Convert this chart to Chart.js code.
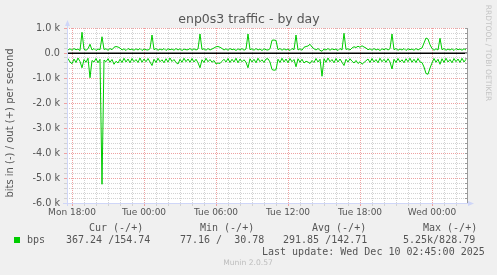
<!DOCTYPE html>
<html>
<head>
<meta charset="utf-8">
<script src="https://cdn.jsdelivr.net/npm/chart.js@4.4.1/dist/chart.umd.min.js"></script>
<style>
  html, body { margin: 0; padding: 0; background: #f0f0f0; }
  canvas { display: block; }
</style>
</head>
<body>
<canvas id="chart" width="497" height="275"></canvas>
<script>
// bits out (+), one sample every 10 minutes, starting Mon 17:40
const outBps = [
  120, 170, 110, 180, 130, 160, 100, 830, 150, 110, 170, 350, 120, 180, 100, 160, 130, 650, 140, 170,
  110, 180, 130, 230, 260, 240, 200, 120, 170, 100, 180, 130, 160, 110, 170, 120, 180, 100, 160, 130,
  120, 170, 720, 130, 180, 110, 160, 120, 180, 100, 170, 130, 160, 110, 180, 120, 170, 100, 160, 130,
  130, 180, 110, 170, 120, 160, 760, 140, 170, 110, 180, 120, 160, 200, 250, 260, 230, 180, 120, 170,
  110, 180, 130, 160, 100, 170, 120, 180, 110, 160, 760, 130, 170, 110, 180, 120, 160, 100, 170, 130,
  120, 170, 510, 520, 500, 130, 180, 110, 170, 120, 160, 100, 180, 130, 720, 120, 170, 110, 230, 260,
  280, 350, 240, 170, 120, 180, 110, 70, 160, 120, 180, 110, 170, 130, 160, 100, 180, 120, 790, 140,
  170, 120, 200, 250, 220, 270, 230, 290, 240, 200, 130, 170, 110, 180, 120, 160, 100, 170, 130, 180,
  120, 170, 760, 130, 180, 110, 160, 120, 180, 100, 170, 130, 160, 110, 180, 120, 170, 200, 400, 600,
  560, 330, 180, 110, 170, 120, 590, 130, 180, 110, 160, 120, 170, 100, 180, 130, 160, 110, 170, 120
];

// bits in (-), same samples
const inBps = [
  220, 360, 430, 240, 380, 200, 340, 590, 260, 370, 210, 990, 300, 360, 220, 390, 250, 5250, 280, 350,
  230, 370, 260, 450, 330, 400, 250, 380, 210, 360, 240, 390, 220, 350, 260, 380, 200, 370, 240, 350,
  220, 360, 500, 250, 380, 210, 350, 270, 390, 230, 360, 200, 340, 260, 380, 440, 250, 370, 210, 350,
  240, 370, 220, 360, 250, 390, 590, 270, 380, 210, 350, 260, 370, 300, 440, 400, 420, 330, 250, 360,
  220, 380, 250, 360, 210, 390, 240, 350, 270, 370, 590, 230, 360, 250, 390, 210, 350, 270, 380, 240,
  230, 360, 660, 690, 670, 250, 380, 210, 360, 240, 390, 220, 350, 260, 550, 230, 370, 250, 400, 330,
  360, 420, 300, 380, 220, 360, 250, 930, 230, 370, 200, 350, 260, 390, 220, 360, 240, 370, 500, 250,
  360, 230, 330, 400, 300, 420, 350, 450, 380, 310, 240, 380, 220, 360, 260, 390, 210, 350, 250, 370,
  230, 360, 640, 250, 380, 220, 360, 270, 390, 230, 350, 210, 370, 250, 380, 220, 360, 380, 560, 820,
  850, 600, 400, 220, 370, 250, 450, 230, 380, 210, 360, 260, 390, 220, 350, 240, 380, 210, 360, 250
];

const sampleStart = -20;   // minutes relative to Mon 18:00
const sampleStep = 10;

const tickLabels = ['Mon 18:00', 'Tue 00:00', 'Tue 06:00', 'Tue 12:00', 'Tue 18:00', 'Wed 00:00'];
const yTickValues = [-6000, -5000, -4000, -3000, -2000, -1000, 0, 1000];
const yTickLabels = ['-6.0 k', '-5.0 k', '-4.0 k', '-3.0 k', '-2.0 k', '-1.0 k', '0.0', '1.0 k'];

const legendHeads = ['Cur (-/+)', 'Min (-/+)', 'Avg (-/+)', 'Max (-/+)'];
const legendValues = ['367.24 /154.74', '77.16 /  30.78', '291.85 /142.71', '5.25k/828.79'];

const GREEN = '#00cc00';
const GRID = '#d2d2d2';
const MGRID = '#eea2a2';
const AXIS = '#cfd6f8';
const FONT = '#555555';

const minutes = outBps.map((_, i) => sampleStart + i * sampleStep);
const hourTicks = [];
for (let m = 0; m <= 1920; m += 60) hourTicks.push(m);
const yTicks = [];
for (let v = -6000; v <= 1000; v += 200) yTicks.push(v);

const muninPlugin = {
  id: 'munin',
  beforeDraw(chart) {
    const { ctx, chartArea: a } = chart;
    ctx.save();
    ctx.fillStyle = '#f0f0f0';
    ctx.fillRect(0, 0, chart.width, chart.height);
    ctx.fillStyle = '#ffffff';
    ctx.fillRect(a.left, a.top, a.right - a.left, a.bottom - a.top);
    ctx.restore();
  },
  afterDatasetsDraw(chart) {
    const { ctx, chartArea: a, scales: { y } } = chart;
    ctx.save();

    // zero line
    const y0 = Math.round(y.getPixelForValue(0));
    ctx.strokeStyle = '#000000';
    ctx.lineWidth = 1.5;
    ctx.beginPath();
    ctx.moveTo(a.left, y0 + 0.25);
    ctx.lineTo(a.right, y0 + 0.25);
    ctx.stroke();

    // right frame with small ticks
    ctx.strokeStyle = '#9a9a9a';
    ctx.lineWidth = 1;
    ctx.beginPath();
    ctx.moveTo(a.right + 0.5, a.top);
    ctx.lineTo(a.right + 0.5, a.bottom);
    yTicks.forEach(v => {
      const py = Math.round(y.getPixelForValue(v)) + 0.5;
      ctx.moveTo(a.right - 2, py);
      ctx.lineTo(a.right + 1, py);
    });
    ctx.stroke();

    // axes with arrows
    ctx.strokeStyle = AXIS;
    ctx.fillStyle = AXIS;
    ctx.beginPath();
    ctx.moveTo(a.left + 0.5, a.bottom + 3);
    ctx.lineTo(a.left + 0.5, a.top - 4);
    ctx.moveTo(a.left - 4, a.bottom + 0.5);
    ctx.lineTo(a.right + 3, a.bottom + 0.5);
    ctx.stroke();
    ctx.beginPath();
    ctx.moveTo(a.left - 2, a.top - 2);
    ctx.lineTo(a.left + 3, a.top - 2);
    ctx.lineTo(a.left + 0.5, a.top - 8);
    ctx.closePath();
    ctx.fill();
    ctx.beginPath();
    ctx.moveTo(a.right + 1, a.bottom - 2);
    ctx.lineTo(a.right + 1, a.bottom + 3);
    ctx.lineTo(a.right + 7, a.bottom + 0.5);
    ctx.closePath();
    ctx.fill();
    ctx.restore();
  },
  afterDraw(chart) {
    const { ctx } = chart;
    ctx.save();
    ctx.fillStyle = FONT;

    ctx.font = '12.5px "DejaVu Sans"';
    ctx.textAlign = 'center';
    ctx.textBaseline = 'alphabetic';
    ctx.fillText('enp0s3 traffic - by day', 249, 23);

    ctx.textBaseline = 'middle';
    ctx.font = '10px "DejaVu Sans"';
    ctx.save();
    ctx.translate(10, 123);
    ctx.rotate(-Math.PI / 2);
    ctx.fillText('bits in (-) / out (+) per second', 0, 0);
    ctx.restore();

    ctx.save();
    ctx.fillStyle = '#c4c4c4';
    ctx.font = '7.5px "DejaVu Sans"';
    ctx.translate(488, 53);
    ctx.rotate(Math.PI / 2);
    ctx.fillText('RRDTOOL / TOBI OETIKER', 0, 0);
    ctx.restore();

    // legend
    ctx.textAlign = 'left';
    ctx.font = '10px "DejaVu Sans Mono"';
    const headX = [89, 200, 312, 423];
    const valX = [66, 180, 283, 403];
    legendHeads.forEach((t, i) => ctx.fillText(t, headX[i], 228));
    ctx.fillStyle = GREEN;
    ctx.fillRect(14, 237, 6, 6);
    ctx.fillStyle = FONT;
    ctx.fillText('bps', 27, 240.5);
    legendValues.forEach((t, i) => ctx.fillText(t, valX[i], 240.5));
    ctx.fillText('Last update: Wed Dec 10 02:45:00 2025', 262, 252.5);

    ctx.fillStyle = '#bdbdbd';
    ctx.textAlign = 'center';
    ctx.font = '7.6px "DejaVu Sans"';
    ctx.fillText('Munin 2.0.57', 248, 263.5);
    ctx.restore();
  }
};

new Chart(document.getElementById('chart'), {
  type: 'line',
  data: {
    datasets: [
      {
        label: 'bps out',
        data: outBps.map((v, i) => ({ x: minutes[i], y: v })),
        borderColor: GREEN,
        borderWidth: 1,
        pointRadius: 0,
        tension: 0
      },
      {
        label: 'bps in',
        data: inBps.map((v, i) => ({ x: minutes[i], y: -v })),
        borderColor: GREEN,
        borderWidth: 1,
        pointRadius: 0,
        tension: 0
      }
    ]
  },
  options: {
    responsive: false,
    animation: false,
    devicePixelRatio: 1,
    layout: { padding: { left: 0, right: 30, top: 28, bottom: 0 } },
    plugins: {
      legend: { display: false },
      tooltip: { enabled: false },
      title: { display: false }
    },
    scales: {
      x: {
        type: 'linear',
        min: -25,
        max: 1975,
        afterBuildTicks: s => { s.ticks = hourTicks.map(v => ({ value: v })); },
        afterFit: s => { s.height = 72; },
        grid: {
          color: c => (c.tick && c.tick.value % 360 === 0) ? MGRID : GRID,
          tickColor: c => (c.tick && c.tick.value % 360 === 0) ? MGRID : GRID,
          tickLength: 3,
          lineWidth: 1
        },
        border: { display: false, dash: [1, 1] },
        ticks: {
          autoSkip: false,
          maxRotation: 0,
          padding: 1,
          color: FONT,
          font: { family: 'DejaVu Sans', size: 9 },
          callback: v => (v % 360 === 0) ? tickLabels[v / 360] : ''
        }
      },
      y: {
        min: -6000,
        max: 1000,
        afterBuildTicks: s => { s.ticks = yTicks.map(v => ({ value: v })); },
        afterFit: s => { s.width = 67; },
        grid: {
          color: c => (c.tick && c.tick.value % 1000 === 0) ? MGRID : GRID,
          tickColor: c => (c.tick && c.tick.value % 1000 === 0) ? MGRID : GRID,
          tickLength: 3,
          lineWidth: 1
        },
        border: { display: false, dash: [1, 1] },
        ticks: {
          autoSkip: false,
          padding: 4,
          color: FONT,
          font: { family: 'DejaVu Sans', size: 9.7 },
          callback: v => {
            const k = yTickValues.indexOf(v);
            return k >= 0 ? yTickLabels[k] : '';
          }
        }
      }
    }
  },
  plugins: [muninPlugin]
});
</script>
</body>
</html>
